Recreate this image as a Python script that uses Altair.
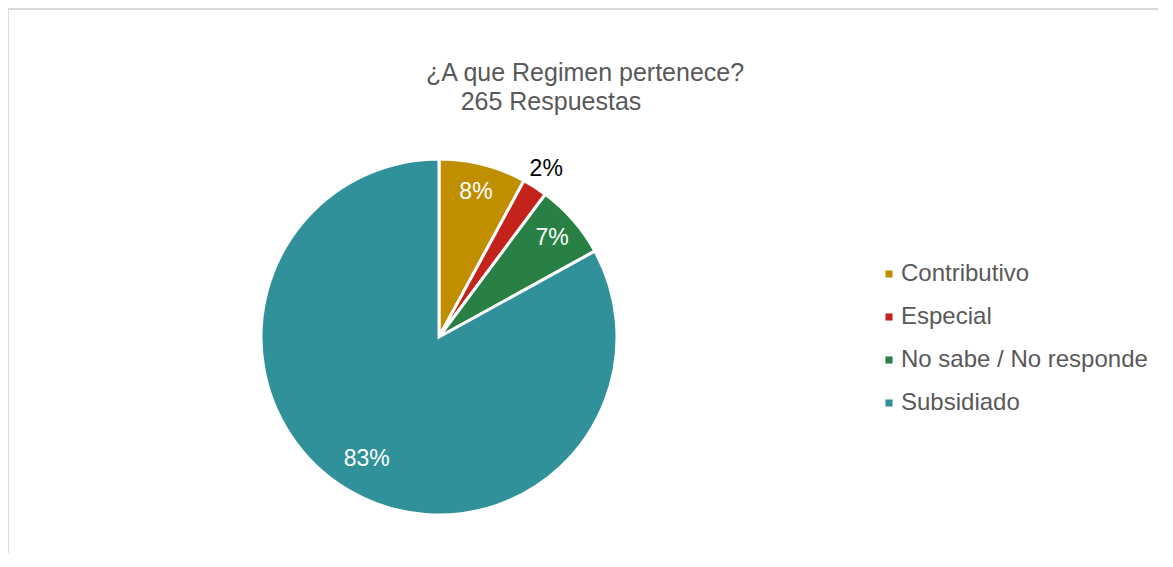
import altair as alt
import pandas as pd

categories = ["Contributivo", "Especial", "No sabe / No responde", "Subsidiado"]
counts = [21, 6, 18, 220]
pct_labels = ["8%", "2%", "7%", "83%"]
colors = ["#BF8F00", "#C4231B", "#298044", "#31919A"]
title_lines = ["¿A que Regimen pertenece?", "265 Respuestas"]

df = pd.DataFrame({"cat": categories, "n": counts, "label": pct_labels, "order": list(range(len(categories)))})

W, H = 1150, 545
CX, CY, R = 431, 329, 178
FONT = "Liberation Sans"

pie = alt.Chart(df).mark_arc(stroke="white", strokeWidth=3, x=CX, y=CY, outerRadius=R).encode(
    theta=alt.Theta("n:Q", stack=True),
    order=alt.Order("order:Q"),
    color=alt.Color(
        "cat:N",
        scale=alt.Scale(domain=categories, range=colors),
        sort=categories,
        legend=alt.Legend(
            title=None,
            orient="none",
            legendX=869,
            legendY=254,
            symbolType="square",
            symbolSize=50,
            symbolStrokeWidth=0,
            labelFont=FONT,
            labelFontSize=24,
            labelColor="#595959",
            labelOffset=0,
            labelLimit=0,
            rowPadding=19,
        ),
    ),
)

labels = alt.Chart(df).transform_window(
    cum="sum(n)", sort=[alt.SortField("order")], frame=[None, 0]
).transform_joinaggregate(total="sum(n)").transform_calculate(
    mid="(datum.cum - datum.n / 2) / datum.total * 2 * PI",
    lr="datum.cat == 'Especial' ? 199 : (datum.cat == 'Subsidiado' ? 142 : 150)",
).mark_text(font=FONT, fontSize=23, x=CX, y=CY, align="center", baseline="middle").encode(
    text="label:N",
    theta=alt.Theta("mid:Q", scale=None),
    radius=alt.Radius("lr:Q", scale=None),
    color=alt.condition(alt.datum.cat == "Especial", alt.value("#000000"), alt.value("#FFFFFF")),
)

tdf = pd.DataFrame({"t": title_lines, "i": [0, 1]})
title1 = alt.Chart(tdf).transform_filter(alt.datum.i == 0).mark_text(
    font=FONT, fontSize=25, color="#595959", align="center", baseline="middle"
).encode(text="t:N", x=alt.value(577), y=alt.value(65))
title2 = alt.Chart(tdf).transform_filter(alt.datum.i == 1).mark_text(
    font=FONT, fontSize=25, color="#595959", align="center", baseline="middle"
).encode(text="t:N", x=alt.value(543), y=alt.value(94))

frame_top = alt.Chart(tdf).mark_rule(color="#D9D9D9", strokeWidth=2).encode(
    x=alt.value(-1), x2=alt.value(W), y=alt.value(1)
)
frame_left = alt.Chart(tdf).mark_rule(color="#D9D9D9", strokeWidth=2).encode(
    x=alt.value(-1), y=alt.value(0), y2=alt.value(H)
)

chart = alt.layer(frame_top, frame_left, pie, labels, title1, title2).properties(
    width=W, height=H, padding=0, autosize=alt.AutoSizeParams(type="none")
).configure_view(stroke=None).configure(background="white")

chart.save("out.html", embed_options={"renderer": "svg", "actions": False})
